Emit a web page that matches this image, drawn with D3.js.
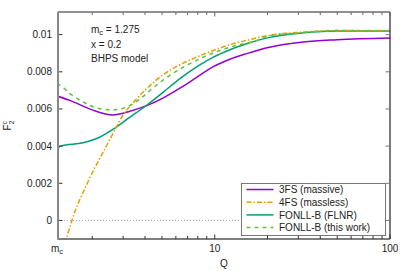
<!DOCTYPE html>
<html>
<head>
<meta charset="utf-8">
<script src="https://cdn.jsdelivr.net/npm/d3@7"></script>
<style>
  body { margin: 0; background: #fff; }
  text { font-family: "Liberation Sans", Arial, sans-serif; }
</style>
</head>
<body>
<script>
// F2 charm vs Q, four schemes
var mc = 1.275;

var q3fs = [1.275, 1.5, 2.0, 2.62, 3.28, 4.09, 5.09, 6.33, 7.88, 9.81, 12.2, 15.2, 20.2, 32, 50, 100];
var f3fs = [0.00668, 0.00645, 0.00595, 0.00568, 0.00588, 0.00618, 0.00660, 0.00712, 0.00770, 0.00828, 0.00868, 0.00898, 0.00931, 0.00961, 0.00973, 0.00982];

var q4fs = [1.40, 1.53, 1.874, 2.47, 2.7, 3.01, 3.51, 4.09, 5.09, 6.33, 7.88, 9.81, 12.2, 15.2, 20.2, 32, 50, 100];
var f4fs = [-0.00125, 0.0, 0.002, 0.0042, 0.0049, 0.0057, 0.00645, 0.0071, 0.00785, 0.00838, 0.00879, 0.00915, 0.00946, 0.00969, 0.00996, 0.01014, 0.01023, 0.01023];

var qFlnr = [1.275, 1.28, 1.32, 1.77, 2.2, 2.62, 3.28, 4.09, 5.09, 6.33, 7.88, 9.81, 12.2, 15.2, 20.2, 32, 50, 100];
var fFlnr = [0.0030, 0.0039, 0.0040, 0.00418, 0.00448, 0.0049, 0.00556, 0.0062, 0.00691, 0.00763, 0.00826, 0.00879, 0.00919, 0.00951, 0.00984, 0.0101, 0.0102, 0.0102];

var qWork = [1.275, 1.28, 1.285, 1.49, 1.78, 2.21, 2.64, 3.14, 3.7, 4.46, 5.55, 6.92, 8.6, 10.7, 13.3, 17.4, 20.2, 32, 50, 100];
var fWork = [0.0059, 0.0072, 0.0073, 0.00682, 0.00637, 0.00601, 0.00596, 0.0061, 0.0065, 0.00715, 0.00781, 0.00835, 0.00879, 0.00915, 0.00942, 0.00969, 0.00993, 0.0101, 0.01022, 0.0102];

var yTicks = [0, 0.002, 0.004, 0.006, 0.008, 0.01];
var yTickLabels = ["0", "0.002", "0.004", "0.006", "0.008", "0.01"];
var xMajor = [10, 100];
var xMinor = [2, 3, 4, 5, 6, 7, 8, 9, 20, 30, 40, 50, 60, 70, 80, 90];

var W = 407, H = 271;
var margin = {top: 12, right: 17, bottom: 32, left: 58};
var pw = W - margin.left - margin.right;
var ph = H - margin.top - margin.bottom;

var svg = d3.select("body").append("svg")
    .attr("width", W)
    .attr("height", H);

var x = d3.scaleLog().domain([mc, 100]).range([margin.left, margin.left + pw]);
var y = d3.scaleLinear().domain([-0.001, 0.01122]).range([margin.top + ph, margin.top]);

svg.append("clipPath").attr("id", "clip")
  .append("rect")
    .attr("x", margin.left).attr("y", margin.top)
    .attr("width", pw).attr("height", ph);

// zero line
svg.append("line")
    .attr("x1", margin.left).attr("x2", margin.left + pw)
    .attr("y1", y(0)).attr("y2", y(0))
    .attr("stroke", "#aaa")
    .attr("stroke-width", 1)
    .attr("stroke-dasharray", "1,2");

var series = [
  {name: "3FS (massive)", q: q3fs, f: f3fs, color: "#9400d3", dash: null},
  {name: "4FS (massless)", q: q4fs, f: f4fs, color: "#e69f00", dash: "5,2,1.5,2"},
  {name: "FONLL-B (FLNR)", q: qFlnr, f: fFlnr, color: "#009e73", dash: null},
  {name: "FONLL-B (this work)", q: qWork, f: fWork, color: "#5cc33a", dash: "4,4"}
];

var line = d3.line()
    .x(function(d) { return x(d[0]); })
    .y(function(d) { return y(d[1]); })
    .curve(d3.curveMonotoneX);

var curves = svg.append("g").attr("clip-path", "url(#clip)");
// draw order: purple, teal, orange, green dashed on top
[0, 2, 1, 3].forEach(function(i) {
  var s = series[i];
  curves.append("path")
      .datum(d3.zip(s.q, s.f))
      .attr("d", line)
      .attr("fill", "none")
      .attr("stroke", s.color)
      .attr("stroke-width", 1.5)
      .attr("stroke-dasharray", s.dash);
});

// frame
var x0 = margin.left, x1 = margin.left + pw, y0 = margin.top, y1 = margin.top + ph;
svg.append("line").attr("x1", x0).attr("x2", x1).attr("y1", y0).attr("y2", y0)
    .attr("stroke", "#222").attr("stroke-width", 1.2);
svg.append("line").attr("x1", x1).attr("x2", x1).attr("y1", y0).attr("y2", y1)
    .attr("stroke", "#222").attr("stroke-width", 1.2);
svg.append("line").attr("x1", x0).attr("x2", x1).attr("y1", y1).attr("y2", y1)
    .attr("stroke", "#555").attr("stroke-width", 1.5);
svg.append("line").attr("x1", x0).attr("x2", x0).attr("y1", y0).attr("y2", y1 + 0.75)
    .attr("stroke", "#888").attr("stroke-width", 2);

// y ticks, inward on both sides
yTicks.forEach(function(v, i) {
  svg.append("line").attr("x1", x0 + 1).attr("x2", x0 + 4.5)
      .attr("y1", y(v)).attr("y2", y(v)).attr("stroke", "#333").attr("stroke-width", 1);
  svg.append("line").attr("x1", x1 - 4.5).attr("x2", x1)
      .attr("y1", y(v)).attr("y2", y(v)).attr("stroke", "#777").attr("stroke-width", 1);
  svg.append("text")
      .attr("x", x0 - 6).attr("y", y(v) + 3.5)
      .attr("text-anchor", "end")
      .attr("font-size", 10)
      .attr("fill", "#222")
      .text(yTickLabels[i]);
});

// x ticks
xMinor.forEach(function(q) {
  svg.append("line").attr("x1", x(q)).attr("x2", x(q)).attr("y1", y1).attr("y2", y1 - 3)
      .attr("stroke", "#333").attr("stroke-width", 1);
  svg.append("line").attr("x1", x(q)).attr("x2", x(q)).attr("y1", y0).attr("y2", y0 + 3)
      .attr("stroke", "#666").attr("stroke-width", 1);
});
xMajor.forEach(function(q) {
  svg.append("line").attr("x1", x(q)).attr("x2", x(q)).attr("y1", y1).attr("y2", y1 - 4.5)
      .attr("stroke", "#333").attr("stroke-width", 1);
  svg.append("line").attr("x1", x(q)).attr("x2", x(q)).attr("y1", y0).attr("y2", y0 + 4.5)
      .attr("stroke", "#666").attr("stroke-width", 1);
  svg.append("text")
      .attr("x", x(q)).attr("y", y1 + 12.5)
      .attr("text-anchor", "middle")
      .attr("font-size", 10)
      .attr("fill", "#222")
      .text(q);
});
var mcLab = svg.append("text")
    .attr("x", x(mc) - 1).attr("y", y1 + 12.5)
    .attr("text-anchor", "middle")
    .attr("font-size", 10)
    .attr("fill", "#222");
mcLab.append("tspan").text("m");
mcLab.append("tspan").attr("dy", 2.5).attr("font-size", 7.5).text("c");

// axis titles
svg.append("text")
    .attr("x", margin.left + pw / 2).attr("y", H - 4)
    .attr("text-anchor", "middle")
    .attr("font-size", 10)
    .attr("fill", "#222")
    .text("Q");

var yl = svg.append("text")
    .attr("transform", "translate(11," + (margin.top + ph / 2) + ") rotate(-90)")
    .attr("text-anchor", "middle")
    .attr("font-size", 10)
    .attr("fill", "#222");
yl.append("tspan").text("F");
yl.append("tspan").attr("font-size", 7).attr("dy", 2.5).text("2");
yl.append("tspan").attr("font-size", 7).attr("dx", -3.9).attr("dy", -7).text("c");

// annotations
var ann = svg.append("g").attr("font-size", 10).attr("fill", "#222");
var a1 = ann.append("text").attr("x", 91).attr("y", 32.5);
a1.append("tspan").text("m");
a1.append("tspan").attr("font-size", 7.5).attr("dy", 2.5).text("c");
a1.append("tspan").attr("dy", -2.5).text(" = 1.275");
ann.append("text").attr("x", 91).attr("y", 47.5).text("x = 0.2");
ann.append("text").attr("x", 91).attr("y", 62.3).text("BHPS model");

// legend
var lg = svg.append("g");
lg.append("rect")
    .attr("x", 241.5).attr("y", 183.5)
    .attr("width", 144).attr("height", 52)
    .attr("fill", "#fff")
    .attr("stroke", "#777")
    .attr("stroke-width", 1);
series.forEach(function(s, i) {
  var ly = 189.5 + i * 12.7;
  lg.append("line")
      .attr("x1", 246.5).attr("x2", 273.5)
      .attr("y1", ly).attr("y2", ly)
      .attr("stroke", s.color)
      .attr("stroke-width", 1.5)
      .attr("stroke-dasharray", s.dash);
  lg.append("text")
      .attr("x", 279).attr("y", ly + 3.6)
      .attr("font-size", 10)
      .attr("fill", "#222")
      .text(s.name);
});
</script>
</body>
</html>
